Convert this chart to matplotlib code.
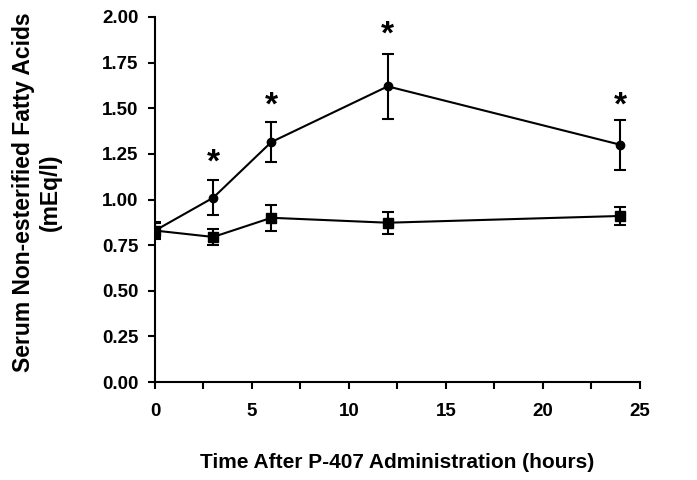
import matplotlib
matplotlib.use("Agg")
import matplotlib.pyplot as plt
from matplotlib.ticker import MultipleLocator

hours = [0, 3, 6, 12, 24]
p407_mean = [0.83, 1.01, 1.315, 1.62, 1.30]
p407_err = [0.04, 0.095, 0.11, 0.178, 0.138]
ctrl_mean = [0.83, 0.795, 0.90, 0.873, 0.91]
ctrl_err = [0.045, 0.045, 0.07, 0.06, 0.048]
sig_hours = [3, 6, 12, 24]
sig_y = [1.20, 1.51, 1.90, 1.51]

x_ticks = [0, 5, 10, 15, 20, 25]
y_ticks = [0.0, 0.25, 0.5, 0.75, 1.0, 1.25, 1.5, 1.75, 2.0]

plt.rcParams['font.family'] = ['Liberation Sans', 'DejaVu Sans']
plt.rcParams['font.weight'] = 'bold'

fig = plt.figure(figsize=(6.97, 4.8), dpi=100)
ax = fig.add_axes([0.2224, 0.204, 0.6956, 0.7606])

ax.errorbar(hours, ctrl_mean, yerr=ctrl_err, color='black', marker='s', markersize=7.5,
            linewidth=1.5, elinewidth=1.5, capsize=4, capthick=1.5, zorder=3)
ax.errorbar(hours, p407_mean, yerr=p407_err, color='black', marker='o', markersize=6,
            linewidth=1.5, elinewidth=1.5, capsize=4, capthick=1.5, zorder=4)
for hx, hy in zip(sig_hours, sig_y):
    ax.text(hx, hy, '*', ha='center', va='center', fontsize=24, fontweight='bold')

ax.set_xlim(0, 25)
ax.set_ylim(0, 2.0)
ax.set_xticks(x_ticks)
ax.set_xticklabels([str(t) for t in x_ticks])
ax.set_yticks(y_ticks)
ax.set_yticklabels([f"{t:.2f}" for t in y_ticks])
ax.xaxis.set_minor_locator(MultipleLocator(2.5))
ax.tick_params(axis='both', which='both', direction='out', width=1.5, length=5, labelsize=13.5)
ax.tick_params(axis='x', pad=10)
ax.tick_params(axis='y', pad=7)
for lab in ax.get_xticklabels() + ax.get_yticklabels():
    lab.set_fontweight('bold')

ax.spines['top'].set_visible(False)
ax.spines['right'].set_visible(False)
ax.spines['left'].set_linewidth(1.5)
ax.spines['bottom'].set_linewidth(1.5)

ax.set_xlabel('Time After P-407 Administration (hours)', fontsize=15, fontweight='bold', labelpad=24)
fig.text(37 / 697, 1 - 192.5 / 480, 'Serum Non-esterified Fatty Acids\n(mEq/l)',
         rotation=90, ha='center', va='center', multialignment='center',
         fontsize=16.5, fontweight='bold', linespacing=1.25)

fig.savefig('out.png', dpi=100)
